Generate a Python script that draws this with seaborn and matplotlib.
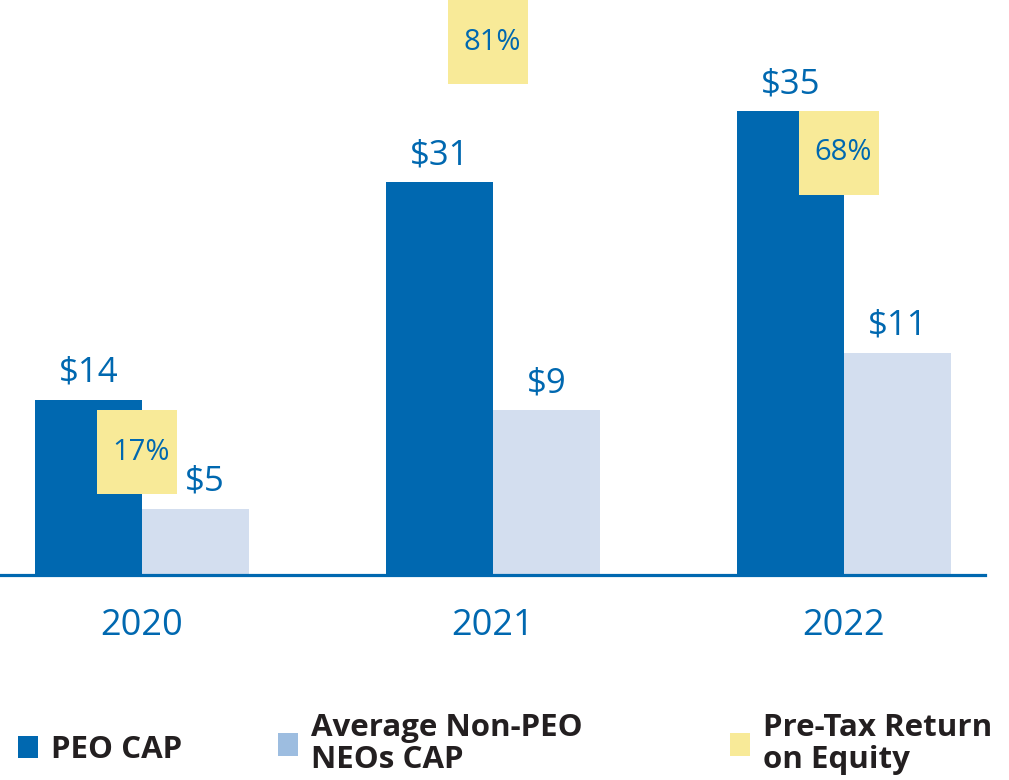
import matplotlib
matplotlib.use('Agg')
import matplotlib.pyplot as plt
from matplotlib.patches import Patch
import seaborn as sns
import pandas as pd

# data
years = ['2020', '2021', '2022']
peo_labels = ['$14', '$31', '$35']
neo_labels = ['$5', '$9', '$11']
# the source does not draw bars to scale with their labels; heights as drawn, on a $ scale
peo_bar = [13.5, 30.2, 35.7]
neo_bar = [5.1, 12.7, 17.1]
roe_labels = ['17%', '81%', '68%']
# box centres as drawn, on a % scale
roe_drawn = [17.5, 83.1, 65.4]

peo_color = '#0068B0'
neo_color = '#D3DEEF'
neo_legend = '#9DBDE0'
roe_color = '#F8EA98'
text_blue = '#0068B0'
dark = '#231F20'

sns.set_theme(style='white')
plt.rcParams['font.family'] = ['Open Sans', 'DejaVu Sans']

df = pd.DataFrame({
    'year': years + years,
    'series': ['PEO CAP'] * 3 + ['Average Non-PEO NEOs CAP'] * 3,
    'value': peo_bar + neo_bar,
})

fig = plt.figure(figsize=(10.09, 7.8), dpi=100)
ax = fig.add_axes([0, 205 / 780, 985 / 1009, 575 / 780])

sns.barplot(data=df, x='year', y='value', hue='series',
            palette=[peo_color, neo_color], width=0.61, saturation=1,
            linewidth=0, legend=False, ax=ax)

ax.set_xlim(-142 / 351, 843 / 351)
ax.set_ylim(0, 575 / 13)

for cont, labs in zip(ax.containers, [peo_labels, neo_labels]):
    texts = ax.bar_label(cont, labels=labs, padding=7, fontsize=25, color=text_blue)
    if labs is neo_labels:
        texts[0].xyann = (7, 7)

# return on equity boxes on their own scale
ax2 = ax.twinx()
ax2.set_ylim(-13.5 / 6.25, (575 - 13.5) / 6.25)
box_h = 84 / 6.25
xs = [i - 0.014 for i in range(len(years))]
ax2.bar(xs, [box_h] * 3, bottom=[r - box_h / 2 for r in roe_drawn], width=0.228,
        color=roe_color, linewidth=0, zorder=3)
for x, r, lab in zip(xs, roe_drawn, roe_labels):
    ax2.text(x + 0.012, r, lab, ha='center', va='center', fontsize=21,
             color=text_blue, zorder=4)
ax2.set_axis_off()

for s in ['top', 'right', 'left']:
    ax.spines[s].set_visible(False)
ax.spines['bottom'].set_color(peo_color)
ax.spines['bottom'].set_linewidth(2.3)
ax.set_xlabel('')
ax.set_ylabel('')
ax.set_yticks([])
ax.tick_params(axis='x', length=0, pad=24, labelsize=26, labelcolor=text_blue)

legend_items = [
    ('PEO CAP', peo_color, 18, 750),
    ('Average Non-PEO\nNEOs CAP', neo_legend, 278, 744),
    ('Pre-Tax Return\non Equity', roe_color, 730, 744),
]
for lab, col, xpx, ypx in legend_items:
    leg = fig.legend(handles=[Patch(facecolor=col, edgecolor='none')], labels=[lab],
                     loc='center left', bbox_to_anchor=(xpx / 1009, 1 - ypx / 780),
                     frameon=False, borderpad=0, borderaxespad=0,
                     handlelength=0.65, handleheight=0.72, handletextpad=0.42,
                     prop={'size': 22.5, 'weight': 'bold'}, labelcolor=dark)
    for t in leg.get_texts():
        t.set_linespacing(1.05)

fig.savefig('out.png', dpi=100, facecolor='white')
